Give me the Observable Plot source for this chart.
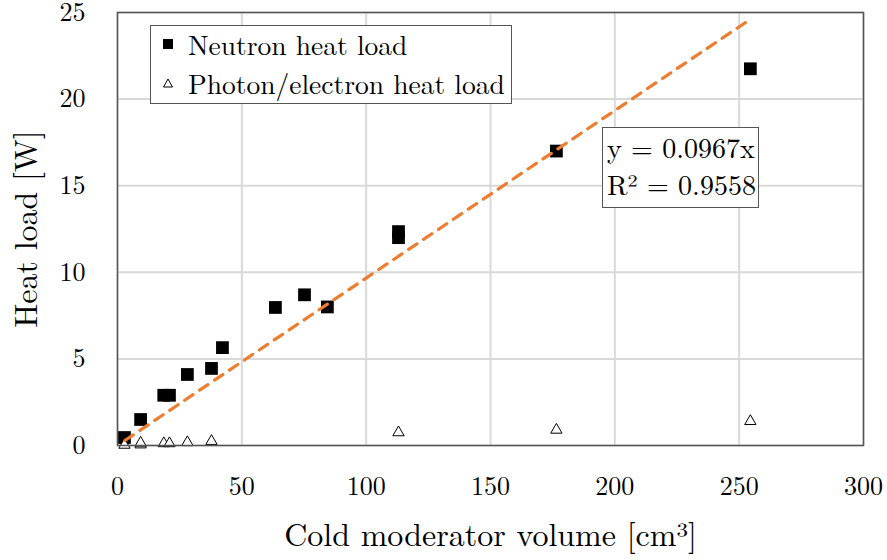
<!DOCTYPE html>
<html>
<head>
<meta charset="utf-8">
<script src="https://cdn.jsdelivr.net/npm/d3@7"></script>
<script src="https://cdn.jsdelivr.net/npm/@observablehq/plot@0.6"></script>
<style>
  body { margin: 0; background: #fff; }
  #wrap { position: relative; width: 887px; height: 560px; }
  #wrap, #wrap * { font-family: 'Latin Modern Roman', 'CMU Serif', serif; }
  .box { position: absolute; background: #fff; border: 1.5px solid #555; box-sizing: border-box; color: #000; }
  .row { display: flex; align-items: center; height: 39px; font-size: 27.5px; white-space: nowrap; }
  .row svg { width: 26px; height: 20px; margin-left: 4px; margin-right: 7px; }
  .ann { font-size: 28px; line-height: 37px; padding: 0 0 0 4px; white-space: nowrap; }
</style>
</head>
<body>
<div id="wrap"></div>
<script>
// Data
const xNeutron = [2.8, 9.3, 18.6, 20.9, 28.1, 37.8, 42.2, 63.5, 75.2, 84.4, 113, 113, 176.5, 254.5];
const yNeutron = [0.46, 1.5, 2.9, 2.9, 4.1, 4.45, 5.65, 7.97, 8.7, 8.0, 12.0, 12.35, 17.0, 21.75];
const xPhoton = [2.8, 9.3, 9.3, 18.6, 20.9, 28.1, 37.8, 113, 176.5, 254.5];
const yPhoton = [0.03, 0.05, 0.15, 0.12, 0.12, 0.18, 0.25, 0.75, 0.9, 1.4];
const trendSlope = 0.0967;
const trendX = [3, 255];
const xTicks = [0, 50, 100, 150, 200, 250, 300];
const yTicks = [0, 5, 10, 15, 20, 25];
const seriesNames = ["Neutron heat load", "Photon/electron heat load"];
const annotationLines = ["y = 0.0967x", "R² = 0.9558"];

const neutron = xNeutron.map((x, i) => ({x, y: yNeutron[i]}));
const photon = xPhoton.map((x, i) => ({x, y: yPhoton[i]}));
const trend = trendX.map(x => ({x, y: trendSlope * x}));

const font = "'Latin Modern Roman', serif";
const plot = Plot.plot({
  width: 887,
  height: 560,
  marginLeft: 117,
  marginRight: 24,
  marginTop: 12,
  marginBottom: 115,
  style: {fontFamily: font, fontSize: "26px", color: "#000", background: "#fff", overflow: "visible"},
  x: {domain: [0, 300]},
  y: {domain: [0, 25]},
  marks: [
    Plot.gridX(xTicks, {stroke: "#d9d9d9", strokeOpacity: 1, strokeWidth: 2}),
    Plot.gridY(yTicks, {stroke: "#d9d9d9", strokeOpacity: 1, strokeWidth: 2}),
    Plot.axisX({ticks: xTicks, tickSize: 0, tickPadding: 31, fontSize: 26,
      label: "Cold moderator volume [cm³]", labelAnchor: "center", labelArrow: "none", labelOffset: 100}),
    Plot.axisY({ticks: yTicks, tickSize: 0, tickPadding: 32, fontSize: 26,
      label: "Heat load [W]", labelAnchor: "center", labelArrow: "none", labelOffset: 103}),
    Plot.dot(neutron, {x: "x", y: "y", symbol: "square", r: 7.2, fill: "#000", stroke: "none"}),
    Plot.dot(photon, {x: "x", y: "y", symbol: "triangle", r: 4.2, fill: "#fff", stroke: "#000", strokeWidth: 1}),
    Plot.line(trend, {x: "x", y: "y", stroke: "#ED7D31", strokeWidth: 3.2, strokeDasharray: "10,8", strokeLinecap: "round"}),
    Plot.frame({stroke: "#555", strokeWidth: 1.5})
  ]
});
plot.querySelectorAll("g[aria-label='x-axis label'] text, g[aria-label='y-axis label'] text").forEach(t => t.setAttribute("font-size", "32"));
const wrap = document.getElementById("wrap");
wrap.appendChild(plot);

// Legend (HTML overlay)
const legend = document.createElement("div");
legend.className = "box";
Object.assign(legend.style, {left: "150px", top: "25px", width: "362px", height: "79px", paddingTop: "0px"});
const sq = '<svg viewBox="0 0 26 20"><rect x="8" y="5" width="10" height="10" fill="#000"/></svg>';
const tri = '<svg viewBox="0 0 26 20"><path d="M13,6 L17.5,14 L8.5,14 Z" fill="#fff" stroke="#000" stroke-width="1"/></svg>';
legend.innerHTML = `<div class="row" style="margin-top:-2px">${sq}<span>${seriesNames[0]}</span></div><div class="row">${tri}<span>${seriesNames[1]}</span></div>`;
wrap.appendChild(legend);

// Trend annotation
const ann = document.createElement("div");
ann.className = "box ann";
Object.assign(ann.style, {left: "602px", top: "127px", width: "157px", height: "81px"});
ann.innerHTML = annotationLines.map(s => `<div>${s}</div>`).join("");
wrap.appendChild(ann);
</script>
</body>
</html>
